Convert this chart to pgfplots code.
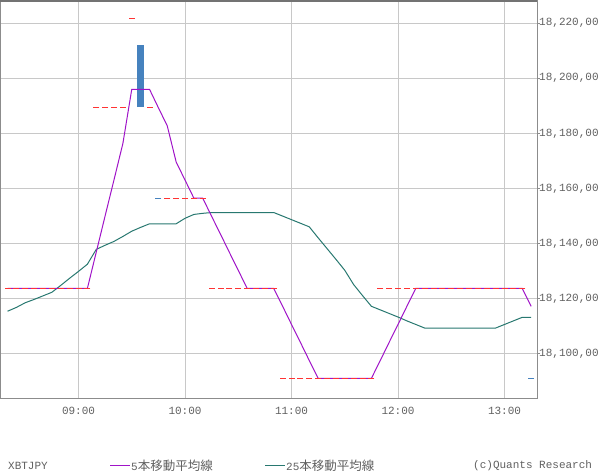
\documentclass[border=0pt]{standalone}
\usepackage{pgfplots}
\pgfplotsset{compat=1.18}
\usepackage{fontspec}
\setmainfont{Liberation Mono}
\newfontfamily\jp{Noto Sans CJK JP}

\definecolor{txt}{RGB}{96,96,96}
\definecolor{gridc}{RGB}{200,200,200}
\definecolor{frame}{RGB}{140,140,140}
\definecolor{ma5}{RGB}{160,20,200}
\definecolor{ma25}{RGB}{40,120,112}
\definecolor{doji}{RGB}{255,51,51}
\definecolor{dn}{RGB}{70,130,190}

\begin{document}
\begin{tikzpicture}[font=\fontsize{11bp}{13bp}\selectfont]
\path[use as bounding box] (0,0) rectangle (600bp,475bp);
\begin{axis}[
    at={(0bp,76bp)}, anchor=south west,
    width=537bp, height=398bp, scale only axis,
    xmin=-44.23, xmax=258.3,
    ymin=18083.4, ymax=18228.1,
    scaled x ticks=false, scaled y ticks=false,
    axis line style={frame, line width=1bp},
    xtick={0,60,120,180,240},
    xticklabels={09:00,10:00,11:00,12:00,13:00},
    ytick={18100,18120,18140,18160,18180,18200,18220},
    yticklabels={{18,100,00},{18,120,00},{18,140,00},{18,160,00},{18,180,00},{18,200,00},{18,220,00}},
    ytick pos=right, yticklabel pos=right,
    xtick pos=bottom,
    tick align=outside,
    major tick length=3bp,
    xtick style={draw=none},
    ytick style={frame, line width=1bp},
    xmajorgrids, ymajorgrids,
    grid style={gridc, line width=1bp},
    ticklabel style={font=\fontsize{11bp}{13bp}\selectfont, text=txt},
    yticklabel style={anchor=west, inner sep=0pt, xshift=-1bp},
    xticklabel style={anchor=north, inner sep=0pt, yshift=-5bp},
]

% doji bars (open = close)
\addplot[doji, only marks, mark=-, mark size=3bp, mark options={line width=1.1bp}] coordinates {
    (-40,18123.6) (-35,18123.6) (-30,18123.6) (-25,18123.6) (-20,18123.6)
    (-15,18123.6) (-10,18123.6) (-5,18123.6) (0,18123.6) (5,18123.6)
    (10,18189.5) (15,18189.5) (20,18189.5) (25,18189.5)
    (30,18221.8) (40,18189.5)
    (50,18156.4) (55,18156.4) (60,18156.4) (65,18156.4) (70,18156.4)
    (75,18123.6) (80,18123.6) (85,18123.6) (90,18123.6) (95,18123.6)
    (100,18123.6) (105,18123.6) (110,18123.6)
    (115,18090.9) (120,18090.9) (125,18090.9) (130,18090.9) (135,18090.9)
    (140,18090.9) (145,18090.9) (150,18090.9) (155,18090.9) (160,18090.9) (165,18090.9)
    (170,18123.6) (175,18123.6) (180,18123.6) (185,18123.6) (190,18123.6)
    (195,18123.6) (200,18123.6) (205,18123.6) (210,18123.6) (215,18123.6)
    (220,18123.6) (225,18123.6) (230,18123.6) (235,18123.6) (240,18123.6)
    (245,18123.6) (250,18123.6)
};

% falling bars
\addplot[dn, line width=7bp] coordinates {(35,18189.5) (35,18212.2)};
\addplot[dn, only marks, mark=-, mark size=3bp, mark options={line width=1.1bp}] coordinates {
    (45,18156.4) (255,18090.9)
};

% 25-bar moving average
\addplot[ma25, line width=1bp] coordinates {
    (-40,18115.3) (-35,18116.7) (-30,18118.4) (-25,18119.6) (-20,18120.9)
    (-15,18122.2) (-10,18124.7) (-5,18127.3) (0,18129.8) (5,18132.4)
    (10,18137.8) (15,18139.3) (20,18140.7) (25,18142.5) (30,18144.4)
    (35,18145.8) (40,18147.1) (45,18147.1) (50,18147.1) (55,18147.1)
    (60,18149.1) (65,18150.5) (70,18150.9) (75,18151.2) (80,18151.2)
    (85,18151.2) (90,18151.2) (95,18151.2) (100,18151.2) (105,18151.2)
    (110,18151.2) (115,18149.9) (120,18148.6) (125,18147.3) (130,18146.0)
    (135,18142.0) (140,18138.1) (145,18134.2) (150,18130.2) (155,18125.0)
    (160,18121.0) (165,18117.1) (170,18115.8) (175,18114.5) (180,18113.2)
    (185,18111.8) (190,18110.5) (195,18109.2) (200,18109.2) (205,18109.2)
    (210,18109.2) (215,18109.2) (220,18109.2) (225,18109.2) (230,18109.2)
    (235,18109.2) (240,18110.5) (245,18111.8) (250,18113.1) (255,18113.1)
};

% 5-bar moving average
\addplot[ma5, line width=1bp] coordinates {
    (-40,18123.6) (-35,18123.6) (-30,18123.6) (-25,18123.6) (-20,18123.6)
    (-15,18123.6) (-10,18123.6) (-5,18123.6) (0,18123.6) (5,18123.6)
    (10,18136.8) (15,18150.0) (20,18163.1) (25,18176.3) (30,18196.0)
    (35,18196.0) (40,18196.0) (45,18189.3) (50,18182.7) (55,18169.6)
    (60,18163.0) (65,18156.4) (70,18156.4) (75,18149.8) (80,18143.3)
    (85,18136.7) (90,18130.2) (95,18123.6) (100,18123.6) (105,18123.6)
    (110,18123.6) (115,18117.1) (120,18110.5) (125,18104.0) (130,18097.4)
    (135,18090.9) (140,18090.9) (145,18090.9) (150,18090.9) (155,18090.9)
    (160,18090.9) (165,18090.9) (170,18097.4) (175,18104.0) (180,18110.5)
    (185,18117.1) (190,18123.6) (195,18123.6) (200,18123.6) (205,18123.6)
    (210,18123.6) (215,18123.6) (220,18123.6) (225,18123.6) (230,18123.6)
    (235,18123.6) (240,18123.6) (245,18123.6) (250,18123.6) (255,18117.1)
};

\draw[black!55, line width=1.2bp] (rel axis cs:0,1) -- (rel axis cs:1,1);
\end{axis}

% footer
\node[anchor=west, inner sep=0pt, text=txt] at (8bp,9bp) {XBTJPY};
\draw[ma5, line width=1bp] (110bp,9bp) -- (130bp,9bp);
\node[anchor=west, inner sep=0pt, text=txt] at (131bp,9bp) {5{\jp\fontsize{12.5bp}{14bp}\selectfont 本移動平均線}};
\draw[ma25, line width=1bp] (265bp,9bp) -- (285bp,9bp);
\node[anchor=west, inner sep=0pt, text=txt] at (286bp,9bp) {25{\jp\fontsize{12.5bp}{14bp}\selectfont 本移動平均線}};
\node[anchor=west, inner sep=0pt, text=txt] at (473bp,9bp) {(c)Quants Research};
\end{tikzpicture}
\end{document}
